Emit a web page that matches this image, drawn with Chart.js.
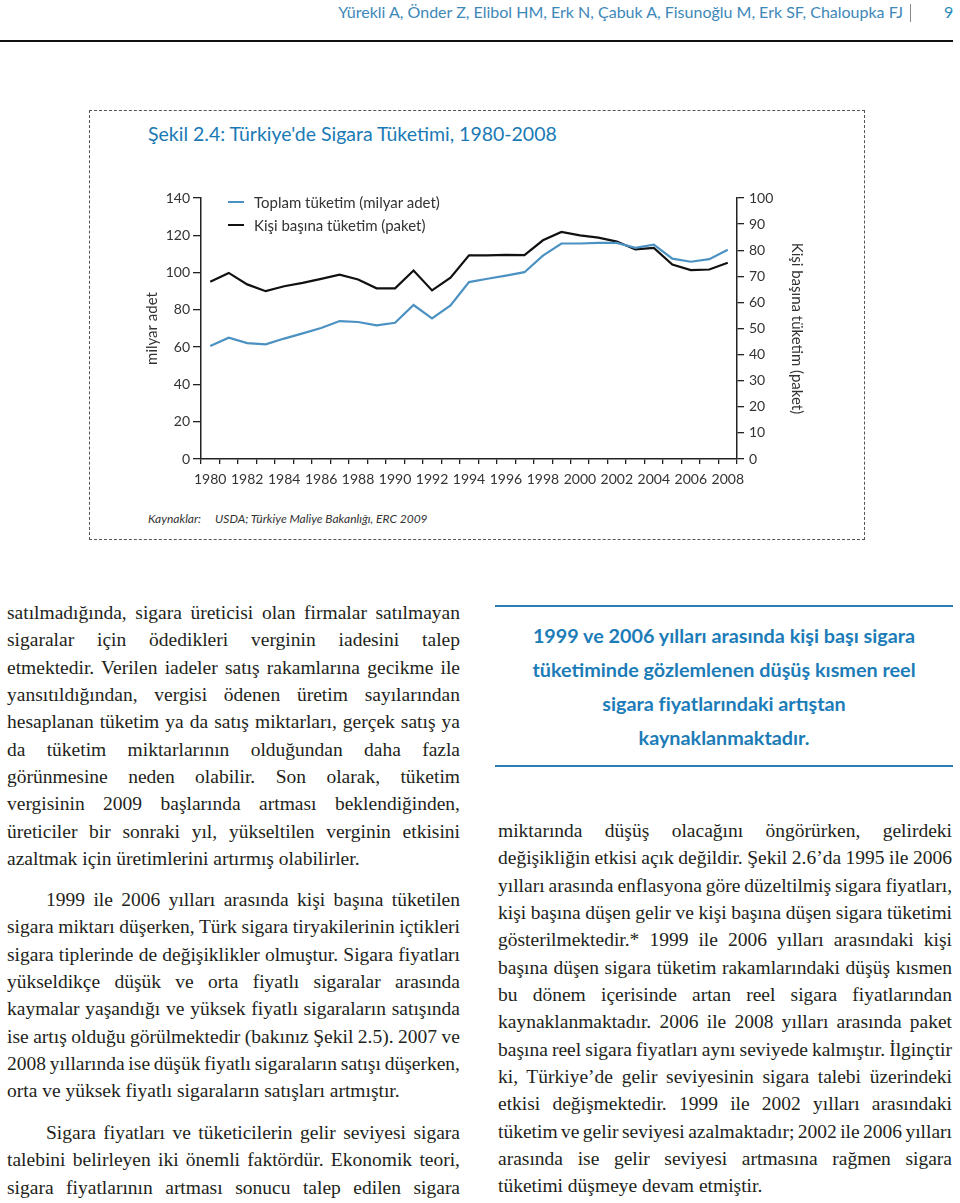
<!DOCTYPE html>
<html lang="tr">
<head>
<meta charset="utf-8">
<title>Şekil 2.4: Türkiye'de Sigara Tüketimi, 1980-2008</title>
<script src="https://cdn.jsdelivr.net/npm/chart.js@4.4.1/dist/chart.umd.min.js"></script>
<style>
    html, body { margin: 0; padding: 0; background: #fff; }
    body { position: relative; width: 960px; height: 1203px; overflow: hidden; font-family: Lato, "Open Sans", sans-serif; color: #231f20; }
    .abs { position: absolute; }
    #running-head { right: 57px; top: 2px; font-size: 16px; color: #3d88b8; white-space: nowrap; }
    #head-bar { left: 910px; top: 4px; width: 1px; height: 18px; background: #888; }
    #page-no { left: 944px; top: 2px; font-size: 16px; color: #2a8ab8; }
    #head-rule { left: 0; top: 40px; width: 953px; height: 2px; background: #111; }
    #figure-box { left: 89px; top: 110px; width: 776px; height: 430px; border: 1px dashed #555; box-sizing: border-box; }
    #figure-title { left: 148px; top: 122px; font-size: 19.5px; color: #1a7ab5; white-space: nowrap; }
    #chart-wrap { left: 130px; top: 180px; width: 700px; height: 320px; }
    .legend-row { left: 228px; font-size: 15px; color: #333; white-space: nowrap; display: flex; align-items: center; }
    .legend-row i { display: inline-block; width: 16px; height: 2px; margin-right: 10px; }
    #sources { left: 148px; top: 511px; font-size: 12px; font-style: italic; color: #333; white-space: nowrap; }
    #sources span { margin-left: 14px; }
    .col { width: 453px; font-family: "Liberation Serif", "Times New Roman", serif; font-size: 19.5px; line-height: 27.35px; color: #231f20; }
    .col div { white-space: nowrap; }
    .col div.ind { padding-left: 39px; }
    #quote { left: 495px; top: 605px; width: 458px; height: 162px; border-top: 2px solid #2a7fb5; border-bottom: 2px solid #2a7fb5; box-sizing: border-box; }
    #quote p { margin: 11px 0 0 0; text-align: center; font-weight: 700; font-size: 19.8px; line-height: 34px; color: #1c7cb8; white-space: nowrap; }
</style>
</head>
<body>

<div id="running-head" class="abs">Yürekli A, Önder Z, Elibol HM, Erk N, Çabuk A, Fisunoğlu M, Erk SF, Chaloupka FJ</div>
<div id="head-bar" class="abs"></div>
<div id="page-no" class="abs">9</div>
<div id="head-rule" class="abs"></div>

<div id="figure-box" class="abs"></div>
<div id="figure-title" class="abs">Şekil 2.4: Türkiye'de Sigara Tüketimi, 1980-2008</div>
<div id="chart-wrap" class="abs"><canvas id="main-chart"></canvas></div>
<div class="abs legend-row" style="top: 193px;"><i style="background:#4b91c2"></i>Toplam tüketim (milyar adet)</div>
<div class="abs legend-row" style="top: 216px;"><i style="background:#111"></i>Kişi başına tüketim (paket)</div>
<div id="sources" class="abs">Kaynaklar:<span>USDA; Türkiye Maliye Bakanlığı, ERC 2009</span></div>

<div class="abs col" style="left: 7px; top: 599px;">
    <div>satılmadığında, sigara üreticisi olan firmalar satılmayan</div>
    <div>sigaralar için ödedikleri verginin iadesini talep</div>
    <div>etmektedir. Verilen iadeler satış rakamlarına gecikme ile</div>
    <div>yansıtıldığından, vergisi ödenen üretim sayılarından</div>
    <div>hesaplanan tüketim ya da satış miktarları, gerçek satış ya</div>
    <div>da tüketim miktarlarının olduğundan daha fazla</div>
    <div>görünmesine neden olabilir. Son olarak, tüketim</div>
    <div>vergisinin 2009 başlarında artması beklendiğinden,</div>
    <div>üreticiler bir sonraki yıl, yükseltilen verginin etkisini</div>
    <div class="end">azaltmak için üretimlerini artırmış olabilirler.</div>
</div>
<div class="abs col" style="left: 7px; top: 886px;">
    <div class="ind">1999 ile 2006 yılları arasında kişi başına tüketilen</div>
    <div>sigara miktarı düşerken, Türk sigara tiryakilerinin içtikleri</div>
    <div>sigara tiplerinde de değişiklikler olmuştur. Sigara fiyatları</div>
    <div>yükseldikçe düşük ve orta fiyatlı sigaralar arasında</div>
    <div>kaymalar yaşandığı ve yüksek fiyatlı sigaraların satışında</div>
    <div>ise artış olduğu görülmektedir (bakınız Şekil 2.5). 2007 ve</div>
    <div>2008 yıllarında ise düşük fiyatlı sigaraların satışı düşerken,</div>
    <div class="end">orta ve yüksek fiyatlı sigaraların satışları artmıştır.</div>
</div>
<div class="abs col" style="left: 7px; top: 1119px;">
    <div class="ind">Sigara fiyatları ve tüketicilerin gelir seviyesi sigara</div>
    <div>talebini belirleyen iki önemli faktördür. Ekonomik teori,</div>
    <div>sigara fiyatlarının artması sonucu talep edilen sigara</div>
</div>

<div id="quote" class="abs">
    <p>1999 ve 2006 yılları arasında kişi başı sigara<br>tüketiminde gözlemlenen düşüş kısmen reel<br>sigara fiyatlarındaki artıştan<br>kaynaklanmaktadır.</p>
</div>

<div class="abs col" style="left: 498px; top: 817px; width: 454px;">
    <div>miktarında düşüş olacağını öngörürken, gelirdeki</div>
    <div>değişikliğin etkisi açık değildir. Şekil 2.6’da 1995 ile 2006</div>
    <div>yılları arasında enflasyona göre düzeltilmiş sigara fiyatları,</div>
    <div>kişi başına düşen gelir ve kişi başına düşen sigara tüketimi</div>
    <div>gösterilmektedir.* 1999 ile 2006 yılları arasındaki kişi</div>
    <div>başına düşen sigara tüketim rakamlarındaki düşüş kısmen</div>
    <div>bu dönem içerisinde artan reel sigara fiyatlarından</div>
    <div>kaynaklanmaktadır. 2006 ile 2008 yılları arasında paket</div>
    <div>başına reel sigara fiyatları aynı seviyede kalmıştır. İlginçtir</div>
    <div>ki, Türkiye’de gelir seviyesinin sigara talebi üzerindeki</div>
    <div>etkisi değişmektedir. 1999 ile 2002 yılları arasındaki</div>
    <div>tüketim ve gelir seviyesi azalmaktadır; 2002 ile 2006 yılları</div>
    <div>arasında ise gelir seviyesi artmasına rağmen sigara</div>
    <div class="end">tüketimi düşmeye devam etmiştir.</div>
</div>

<script>
const years = ['1980', '1981', '1982', '1983', '1984', '1985', '1986', '1987', '1988', '1989',
    '1990', '1991', '1992', '1993', '1994', '1995', '1996', '1997', '1998', '1999',
    '2000', '2001', '2002', '2003', '2004', '2005', '2006', '2007', '2008'];

// Toplam tüketim, milyar adet (sol eksen)
const totalConsumption = [60.6, 65.1, 62.2, 61.5, 64.6, 67.4, 70.3, 74.0, 73.5, 71.7,
    73.1, 82.6, 75.4, 82.4, 94.9, 96.7, 98.4, 100.2, 109.1, 115.6,
    115.6, 115.9, 115.9, 113.3, 115.0, 107.5, 105.8, 107.2, 112.2];

// Kişi başına tüketim, paket (sağ eksen)
const perCapita = [67.9, 71.3, 66.9, 64.3, 66.2, 67.5, 69.0, 70.6, 68.8, 65.4,
    65.4, 72.2, 64.6, 69.5, 78.0, 78.0, 78.2, 78.1, 83.8, 87.0,
    85.7, 84.8, 83.3, 80.3, 80.9, 74.5, 72.4, 72.6, 75.2];

const leftTitle = 'milyar adet';
const rightTitle = 'Kişi başına tüketim (paket)';

const axisColor = '#222';
const tickFont = { family: 'Lato, sans-serif', size: 14 };
const titleFont = { family: 'Lato, sans-serif', size: 15 };

// satırları sütun genişliğine yasla (son satırlar hariç)
const justifyLines = () => {
    document.querySelectorAll('.col div').forEach(line => {
        const text = line.textContent.trim();
        line.textContent = '';
        const span = document.createElement('span');
        span.textContent = text;
        line.appendChild(span);
        const indent = line.classList.contains('ind') ? 39 : 0;
        const avail = line.parentElement.clientWidth - indent;
        const natural = span.getBoundingClientRect().width;
        const spaces = (text.match(/ /g) || []).length;
        if (!line.classList.contains('end') && spaces > 0) {
            line.style.wordSpacing = ((avail - natural) / spaces).toFixed(2) + 'px';
        } else if (natural > avail && spaces > 0) {
            line.style.wordSpacing = ((avail - natural) / spaces).toFixed(2) + 'px';
        }
    });
};
justifyLines();

const chartCanvas = document.getElementById('main-chart');

new Chart(chartCanvas.getContext('2d'), {
    type: 'line',
    data: {
        labels: years,
        datasets: [
            {
                label: 'Toplam tüketim (milyar adet)',
                data: totalConsumption,
                yAxisID: 'y',
                borderColor: '#4b91c2',
                borderWidth: 2.2,
                pointRadius: 0,
                tension: 0
            },
            {
                label: 'Kişi başına tüketim (paket)',
                data: perCapita,
                yAxisID: 'y2',
                borderColor: '#111',
                borderWidth: 2.2,
                pointRadius: 0,
                tension: 0
            }
        ]
    },
    options: {
        responsive: true,
        maintainAspectRatio: false,
        animation: false,
        layout: { padding: { top: 18, left: 0, right: 0, bottom: 0 } },
        plugins: {
            legend: { display: false },
            tooltip: { enabled: false }
        },
        scales: {
            x: {
                offset: true,
                grid: { offset: true, drawOnChartArea: false, tickLength: 5, color: axisColor, lineWidth: 1.3 },
                border: { display: true, color: axisColor, width: 1.5 },
                ticks: {
                    autoSkip: false, maxRotation: 0, padding: 7, color: '#333', font: tickFont,
                    callback: (value, index) => index % 2 === 0 ? years[index] : ''
                },
                afterFit: (scale) => { scale.height = 41; }
            },
            y: {
                position: 'left',
                min: 0, max: 140,
                ticks: { stepSize: 20, padding: 3, color: '#333', font: tickFont },
                grid: { drawOnChartArea: false, tickLength: 8, color: axisColor, lineWidth: 1.3 },
                border: { display: true, color: axisColor, width: 1.5 },
                title: { display: true, text: leftTitle, color: '#333', font: titleFont, padding: { top: 13, bottom: 0 } },
                afterFit: (scale) => { scale.width = 71; }
            },
            y2: {
                position: 'right',
                min: 0, max: 100,
                ticks: { stepSize: 10, padding: 5, color: '#333', font: tickFont },
                grid: { drawOnChartArea: false, tickLength: 7, color: axisColor, lineWidth: 1.3 },
                border: { display: true, color: axisColor, width: 1.5 },
                title: { display: true, text: rightTitle, color: '#333', font: titleFont, padding: { top: 24, bottom: 0 } },
                afterFit: (scale) => { scale.width = 93; }
            }
        }
    }
});
</script>
</body>
</html>
